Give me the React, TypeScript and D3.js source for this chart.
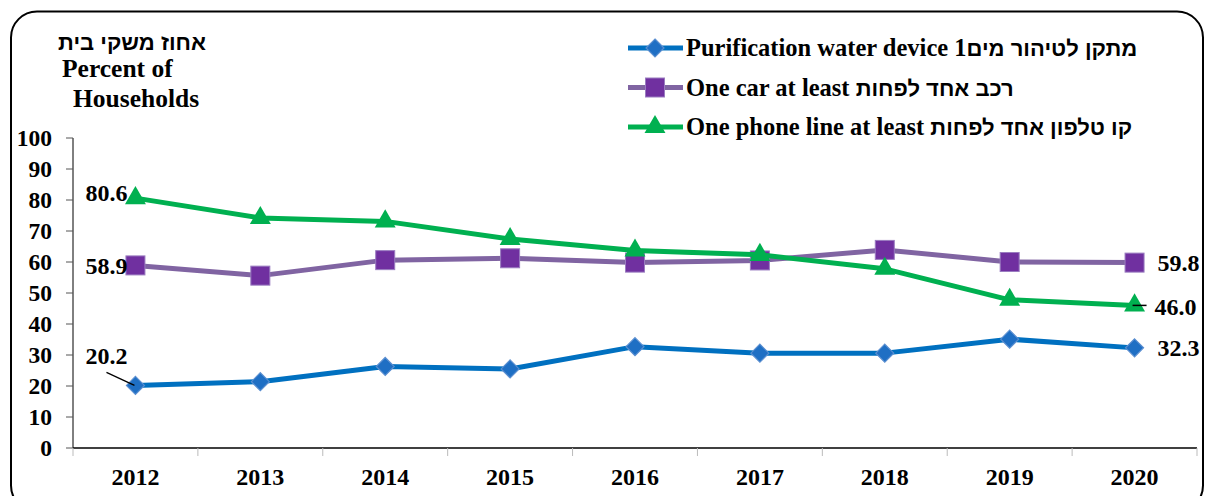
import * as d3 from "d3";

const years = ["2012", "2013", "2014", "2015", "2016", "2017", "2018", "2019", "2020"];
const waterDevice = [20.2, 21.4, 26.3, 25.5, 32.7, 30.6, 30.6, 35.1, 32.3];
const car = [58.9, 55.6, 60.6, 61.2, 59.8, 60.5, 63.9, 60.0, 59.8];
const phoneLine = [80.6, 74.2, 73.1, 67.4, 63.7, 62.3, 57.8, 47.8, 46.0];
const yTicks = [0, 10, 20, 30, 40, 50, 60, 70, 80, 90, 100];

const serif = "'Liberation Serif', 'Times New Roman', serif";
const sans = "'Liberation Sans', Arial, sans-serif";

const series = [
  { key: "water", en: "Purification water device 1", he: "מתקן לטיהור מים", values: waterDevice, line: "#0070C0", fill: "#1F6FC4", stroke: "#5A8ED0", shape: "diamond" },
  { key: "car", en: "One car at least ", he: "רכב אחד לפחות", values: car, line: "#8064A2", fill: "#7030A0", stroke: "#9A7CC0", shape: "square" },
  { key: "phone", en: "One phone line at least ", he: "קו טלפון אחד לפחות", values: phoneLine, line: "#00B050", fill: "#00B050", stroke: "#00B050", shape: "triangle" },
];

const W = 1206;
const H = 496;
const left = 73;
const right = 1197;
const top = 138;
const bottom = 448;

function Marker({ shape, x, y, fill, stroke }: any) {
  if (shape === "diamond") {
    const r = 9;
    return <path d={`M${x},${y - r}L${x + r},${y}L${x},${y + r}L${x - r},${y}Z`} fill={fill} stroke={stroke} strokeWidth={1.2} />;
  }
  if (shape === "square") {
    const s = 9.5;
    return <rect x={x - s} y={y - s} width={s * 2} height={s * 2} fill={fill} stroke={stroke} strokeWidth={1} />;
  }
  const sym = d3.symbol().type(d3.symbolTriangle).size(190)();
  return <path d={sym as string} transform={`translate(${x},${y})`} fill={fill} />;
}

export default function App() {
  const x = d3.scaleBand().domain(years).range([left, right]);
  const y = d3.scaleLinear().domain([0, 100]).range([bottom, top]);
  const cx = (yr: string) => (x(yr) as number) + x.bandwidth() / 2;
  const line = d3
    .line<number>()
    .x((_, i) => cx(years[i]))
    .y((d) => y(d));

  const first = years[0];
  const last = years[years.length - 1];
  const n = years.length - 1;
  const lab = 24;

  return (
    <svg width={W} height={H} style={{ position: "absolute", left: 0, top: 0 }} fontFamily={serif} fontWeight="bold">
      <rect x={11} y={11.5} width={1192} height={500} rx={26} fill="white" stroke="black" strokeWidth={2} />

      {/* title */}
      <text x={206} y={50} fontSize={22} fontFamily={sans} textAnchor="end">אחוז משקי בית</text>
      <text x={62} y={77} fontSize={25.5}>Percent of</text>
      <text x={73} y={107} fontSize={25.5}>Households</text>

      {/* y axis */}
      <line x1={left} x2={left} y1={top} y2={bottom} stroke="black" strokeWidth={1} />
      {yTicks.map((t) => (
        <g key={t}>
          <line x1={left - 7} x2={left} y1={y(t)} y2={y(t)} stroke="#555" strokeWidth={1} />
          <text x={52} y={y(t)} dy="0.35em" textAnchor="end" fontSize={23.5}>{t}</text>
        </g>
      ))}

      {/* x axis */}
      <line x1={left} x2={right} y1={bottom} y2={bottom} stroke="black" strokeWidth={1.5} />
      {years.concat(["end"]).map((yr, i) => {
        const xx = i < years.length ? (x(yr) as number) : right;
        return <line key={yr} x1={xx} x2={xx} y1={bottom} y2={bottom + 8} stroke="#bbb" strokeWidth={1} />;
      })}
      {years.map((yr) => (
        <text key={yr} x={cx(yr)} y={485} textAnchor="middle" fontSize={24}>{yr}</text>
      ))}

      {/* series */}
      {series.map((s) => (
        <g key={s.key}>
          <path d={line(s.values) as string} fill="none" stroke={s.line} strokeWidth={5} strokeLinejoin="round" />
          {s.values.map((v, i) => (
            <Marker key={i} shape={s.shape} x={cx(years[i])} y={y(v)} fill={s.fill} stroke={s.stroke} />
          ))}
        </g>
      ))}

      {/* data labels */}
      <text x={cx(first) - 8} y={y(phoneLine[0]) - 6} dy="0.35em" textAnchor="end" fontSize={lab}>{phoneLine[0].toFixed(1)}</text>
      <text x={cx(first) - 8} y={y(car[0])} dy="0.35em" textAnchor="end" fontSize={lab}>{car[0].toFixed(1)}</text>
      <text x={cx(first) - 8} y={y(waterDevice[0]) - 30} dy="0.35em" textAnchor="end" fontSize={lab}>{waterDevice[0].toFixed(1)}</text>
      <line x1={cx(first) - 29} y1={y(waterDevice[0]) - 13} x2={cx(first) - 1} y2={y(waterDevice[0])} stroke="black" strokeWidth={1.3} />

      <text x={cx(last) + 23} y={y(car[n])} dy="0.35em" fontSize={lab}>{car[n].toFixed(1)}</text>
      <text x={cx(last) + 20} y={y(phoneLine[n]) + 1} dy="0.35em" fontSize={lab}>{phoneLine[n].toFixed(1)}</text>
      <line x1={cx(last) - 2} x2={cx(last) + 12} y1={y(phoneLine[n])} y2={y(phoneLine[n])} stroke="black" strokeWidth={1.5} />
      <text x={cx(last) + 23} y={y(waterDevice[n])} dy="0.35em" fontSize={lab}>{waterDevice[n].toFixed(1)}</text>

      {/* legend */}
      {series.map((s, i) => {
        const ly = 48 + i * 39.5;
        return (
          <g key={s.key}>
            <line x1={628} x2={683} y1={ly} y2={ly} stroke={s.line} strokeWidth={5} />
            <Marker shape={s.shape} x={655} y={ly} fill={s.fill} stroke={s.stroke} />
            <text x={686} y={ly + 8} fontSize={24.5}>
              <tspan>{s.en}</tspan>
              <tspan fontFamily={sans} fontSize={22}>{s.he}</tspan>
            </text>
          </g>
        );
      })}
    </svg>
  );
}
